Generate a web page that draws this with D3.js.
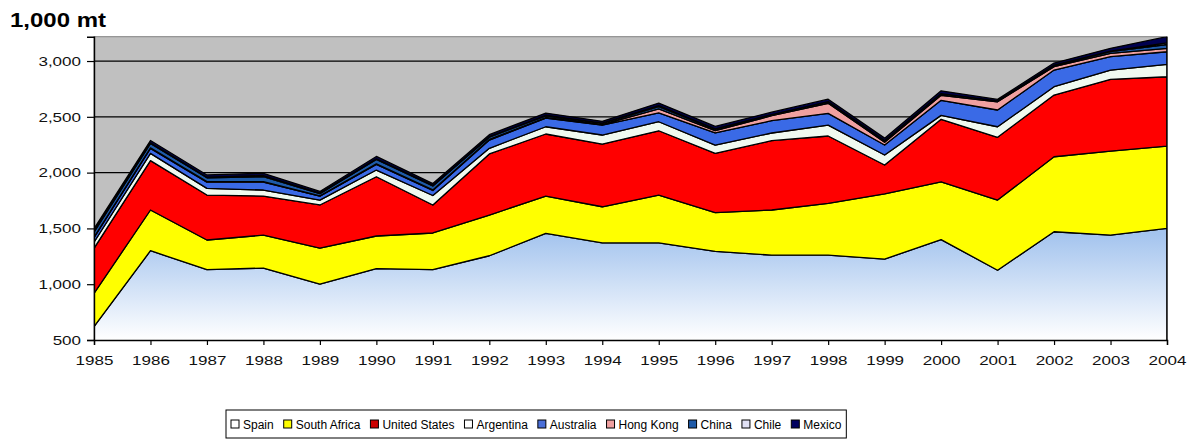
<!DOCTYPE html>
<html>
<head>
<meta charset="utf-8">
<script src="https://cdn.jsdelivr.net/npm/d3@7"></script>
<style>
  html, body { margin: 0; padding: 0; background: #ffffff; }
  svg { display: block; font-family: "Liberation Sans", Arial, sans-serif; }
</style>
</head>
<body>
<svg id="chart" width="1196" height="447"></svg>
<script>
const years = [1985,1986,1987,1988,1989,1990,1991,1992,1993,1994,1995,1996,1997,1998,1999,2000,2001,2002,2003,2004];
const seriesNames = ["Spain","South Africa","United States","Argentina","Australia","Hong Kong","China","Chile","Mexico"];
const seriesColors = ["url(#spainGrad)","#ffff00","#ff0000","#f0faf0","#3a6ae6","#f0a0a0","#1e5aa8","#d8dcf0","#000050"];
const legendSwatch = ["#ffffff","#ffff00","#cc0000","#ffffff","#4a6fd8","#f0a0a0","#1e5aa8","#e0e0f4","#000060"];

const spain        = [620,1300,1130,1145,1000,1140,1130,1255,1455,1370,1370,1295,1260,1260,1225,1400,1125,1470,1440,1500];
const southAfrica  = [298, 365, 266, 295, 324, 292, 329, 365, 335, 324, 429, 346, 405, 465, 585, 518, 629, 672, 753, 738];
const unitedStates = [404, 442, 403, 350, 386, 531, 251, 547, 556, 562, 576, 532, 621, 603, 258, 560, 562, 553, 643, 621];
const argentina    = [ 55,  65,  60,  54,  44,  60,  85,  51,  65,  81,  81,  74,  69,  98,  90,  35,  95,  75,  83, 111];
const australia    = [ 40,  45,  55,  70,  35,  50,  45,  74,  78,  89,  80, 110, 110, 105,  89, 135, 150, 149, 120, 113];
const hongKong     = [  5,   5,   5,   5,   3,   5,   5,   5,   5,   5,  35,  20,  45,  90,  25,  45,  74,  30,  30,  30];
const china        = [ 45,  40,  35,  45,  20,  40,  35,  20,  15,   8,  20,  10,   5,  10,  10,  10,   5,  10,  15,  35];
const chile        = [ 10,   5,   5,  10,   5,   5,   5,   5,   5,   5,  10,   5,   5,   5,   5,   5,   2,   5,   5,  15];
const mexico       = [ 20,  21,  20,  20,  14,  22,  17,  18,  20,  16,  22,  22,  22,  22,  22,  25,  14,  18,  25,  55];
const yTicks = [500,1000,1500,2000,2500,3000];
const yLabels = ["500","1,000","1,500","2,000","2,500","3,000"];
const unitLabel = "1,000 mt";

const allSeries = [spain,southAfrica,unitedStates,argentina,australia,hongKong,china,chile,mexico];
const rows = years.map((yr,i) => {
  const r = {year: yr};
  seriesNames.forEach((n,k) => r[n] = allSeries[k][i]);
  return r;
});

const svg = d3.select("#chart");
const pL = 94, pR = 1167, pT = 36.7, pB = 340;

const x = d3.scaleLinear().domain([1985,2004]).range([pL,pR]);
const y = d3.scaleLinear().domain([500,3218]).range([pB,pT]);

const defs = svg.append("defs");
const grad = defs.append("linearGradient").attr("id","spainGrad")
  .attr("gradientUnits","userSpaceOnUse").attr("x1",0).attr("y1",y(1450)).attr("x2",0).attr("y2",pB);
grad.append("stop").attr("offset","0%").attr("stop-color","#a4c4ee");
grad.append("stop").attr("offset","100%").attr("stop-color","#ffffff");
defs.append("clipPath").attr("id","plotClip").append("rect")
  .attr("x",pL).attr("y",pT).attr("width",pR-pL).attr("height",pB-pT);

svg.append("rect").attr("x",pL).attr("y",pT).attr("width",pR-pL).attr("height",pB-pT)
  .attr("fill","#c0c0c0").attr("stroke","#808080").attr("stroke-width",1);

svg.append("g").selectAll("line").data(yTicks.filter(t=>t>500)).join("line")
  .attr("x1",pL).attr("x2",pR).attr("y1",d=>y(d)).attr("y2",d=>y(d))
  .attr("stroke","#000").attr("stroke-width",1.2);

const stack = d3.stack().keys(seriesNames);
const layers = stack(rows);
const area = d3.area().x(d=>x(d.data.year)).y0(d=>y(d[0])).y1(d=>y(d[1]));

svg.append("g").attr("clip-path","url(#plotClip)").selectAll("path").data(layers).join("path")
  .attr("d",area)
  .attr("fill",(d,i)=>seriesColors[i])
  .attr("stroke","#000").attr("stroke-width",1.3).attr("stroke-linejoin","round");

svg.append("line").attr("x1",pR).attr("x2",pR).attr("y1",pT).attr("y2",pB)
  .attr("stroke","#000").attr("stroke-width",1.2);

const yAxis = d3.axisLeft(y).tickValues(yTicks).tickFormat((d,i)=>yLabels[i]).tickSize(7).tickPadding(6);
const gy = svg.append("g").attr("transform",`translate(${pL},0)`).call(yAxis);
const xAxis = d3.axisBottom(x).tickValues(years).tickFormat(d3.format("d")).tickSize(5).tickPadding(10);
const gx = svg.append("g").attr("transform",`translate(0,${pB})`).call(xAxis);
[gx,gy].forEach(g=>{
  g.select(".domain").attr("stroke","#000").attr("stroke-width",1.4);
  g.selectAll(".tick line").attr("stroke","#000").attr("stroke-width",1.2);
  g.selectAll(".tick text").attr("fill","#111").style("font-size","13.5px")
   .style("font-family","'Liberation Sans', Arial, sans-serif")
   .each(function(){
     const w = this.getComputedTextLength();
     d3.select(this).attr("textLength", w*1.26).attr("lengthAdjust","spacingAndGlyphs");
   });
});

svg.append("text").attr("x",10).attr("y",26.5).text(unitLabel)
  .style("font-size","20px").style("font-weight","900").attr("fill","#000")
  .attr("textLength",96).attr("lengthAdjust","spacingAndGlyphs");

const legendItems = seriesNames.map((n,i)=>({name:n,color:legendSwatch[i]}));
const lg = svg.append("g");
const lgBox = lg.append("rect").attr("y",410).attr("height",28).attr("fill","#fff").attr("stroke","#000").attr("stroke-width",1);
const items = lg.selectAll("g.item").data(legendItems).join("g").attr("class","item");
items.append("rect").attr("width",8).attr("height",8).attr("y",420).attr("fill",d=>d.color).attr("stroke","#000").attr("stroke-width",1);
items.append("text").attr("y",428.5).text(d=>d.name).style("font-size","12px").attr("fill","#000");
const widths = [];
items.each(function(){ widths.push(this.querySelector("text").getComputedTextLength()); });
const gap = 10;
const total = widths.reduce((a,w)=>a+12+w+gap,0) - gap;
const lgLeft = 226;
let startX = lgLeft + 5;
items.each(function(d,i){
  const g = d3.select(this);
  g.select("rect").attr("x",startX);
  g.select("text").attr("x",startX+12);
  startX += 12 + widths[i] + gap;
});
lgBox.attr("x",lgLeft).attr("width",total+10);
</script>
</body>
</html>
